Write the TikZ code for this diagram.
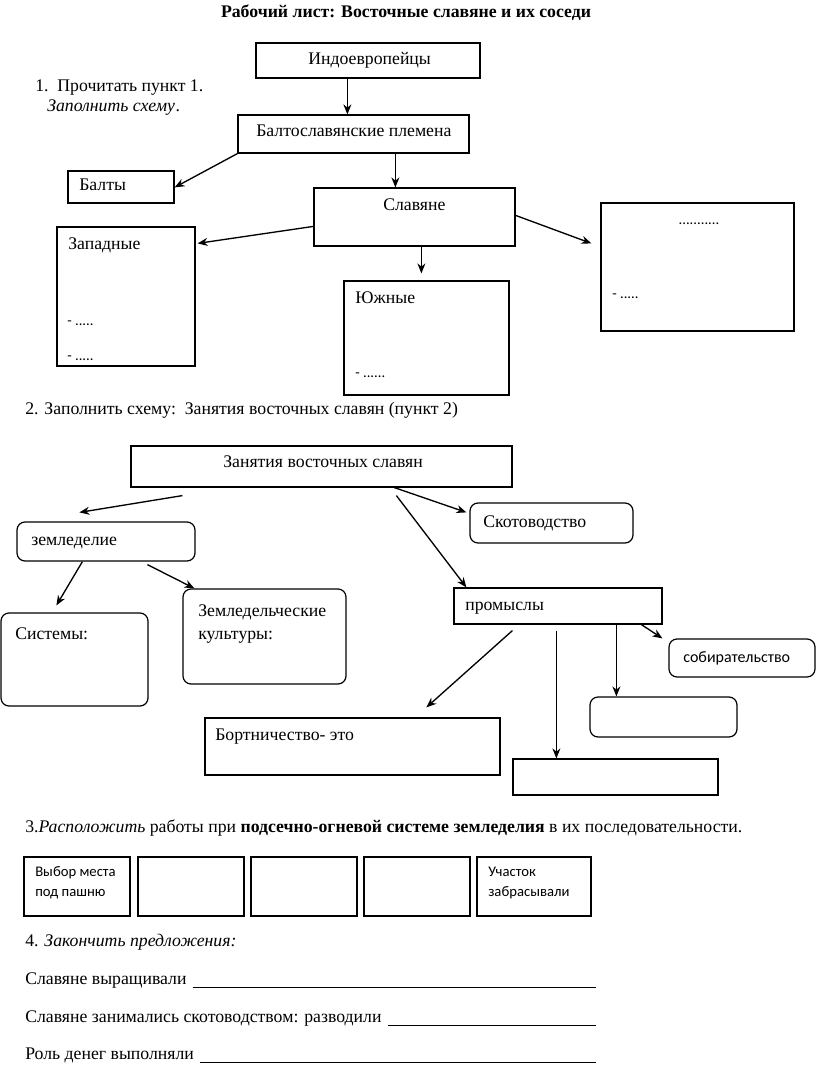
\documentclass[tikz,border=0pt]{standalone}
\usepackage{fontspec}
\setmainfont{Liberation Serif}
\newfontfamily\calib{Carlito}
\usepackage{tikz}
\usetikzlibrary{arrows.meta,shapes,positioning,calc}
\newcommand{\wsize}{\fontsize{13.3pt}{15pt}\selectfont}
\tikzstyle{box} = [rectangle, draw, line width=0.9pt, inner sep=0pt]
\tikzstyle{rbox} = [box, rounded corners=6pt]
\tikzstyle{txt} = [anchor=base west, inner sep=0pt, font=\wsize]
\tikzstyle{ctxt} = [anchor=base west, inner sep=0pt, font=\calib\fontsize{11pt}{13pt}\selectfont]
\tikzstyle{arrow} = [line width=1pt,-{Stealth[length=7.5pt,width=6pt]}]
\tikzstyle{blank} = [line width=0.6pt]
\tikzset{sz/.style 2 args={minimum width=#1*0.75pt, minimum height=#2*0.75pt}}

\begin{document}
\begin{tikzpicture}[x=0.75pt, y=-0.75pt]
    \useasboundingbox (0,0) rectangle (816,1084);

    % Title
    \node[font=\wsize\bfseries, anchor=base, inner sep=0pt] (title) at (406,18) {Рабочий лист: Восточные славяне и их соседи};

    % Task 1
    \node[txt] (t1a) at (35,92) {1.\hspace{0.5em}Прочитать пункт 1.};
    \node[txt] (t1b) at (47,112) {\itshape Заполнить схему};
    \node[txt] at (t1b.base east) {.};

    \node[box, sz={224}{35}] (indo) at (368,60.5) {};
    \node[txt] at (308,65) {Индоевропейцы};

    \node[box, sz={231}{38}] (balto) at (353.5,134) {};
    \node[txt] at (256,137) {Балтославянские племена};

    \node[box, sz={106}{32}] (balty) at (121,187) {};
    \node[txt] at (79,191) {Балты};

    \node[box, sz={201}{58}] (slav) at (414.5,217) {};
    \node[txt] at (383,211) {Славяне};

    \node[box, sz={138}{139}] (zap) at (126,296.5) {};
    \node[txt] at (68,249) {Западные};
    \node[ctxt] at (67,325) {- .....};
    \node[ctxt] at (67,360) {- .....};

    \node[box, sz={165}{114}] (yuzh) at (426.5,338) {};
    \node[txt] at (355,303) {Южные};
    \node[ctxt] at (355,377) {- ......};

    \node[box, sz={193}{128}] (east) at (697.5,267) {};
    \node[ctxt, anchor=base] at (699,225) {...........};
    \node[ctxt] at (612,298) {- .....};

    \draw[arrow] ($(indo.south west)+(92,0)$) -- ($(balto.north west)+(110,0)$);
    \draw[arrow] (balto.south west) -- ($(balty.north east)+(0,17)$);
    \draw[arrow] ($(balto.south west)+(158,0)$) -- ($(slav.north west)+(82,0)$);
    \draw[arrow] ($(slav.north west)+(0,39)$) -- ($(zap.north east)+(2,17)$);
    \draw[arrow] ($(slav.south west)+(108,0)$) -- ($(yuzh.north west)+(78,-7)$);
    \draw[arrow] ($(slav.north east)+(0,28)$) -- ($(east.north west)+(-9,41)$);

    % Task 2
    \node[txt] (t2) at (25,414) {2. Заполнить схему:\ \ Занятия восточных славян (пункт 2)};

    \node[box, sz={381}{41}] (zan) at (321.5,466.5) {};
    \node[txt] at (223,467) {Занятия восточных славян};

    \node[rbox, sz={178}{39}] (zeml) at (106,541.5) {};
    \node[txt] at (31,545) {земледелие};

    \node[rbox, sz={147}{93}] (sist) at (74.5,659.5) {};
    \node[txt] at (15,639) {Системы:};

    \node[rbox, sz={163}{95}] (kult) at (264.5,636.5) {};
    \node[txt] at (198,616) {Земледельческие};
    \node[txt] at (198,639) {культуры:};

    \node[rbox, sz={163}{40}] (skot) at (551.5,523) {};
    \node[txt] at (483,527) {Скотоводство};

    \node[box, sz={208}{36}] (prom) at (558,606) {};
    \node[txt] at (465,610) {промыслы};

    \node[rbox, sz={146}{38}] (sobir) at (742,658) {};
    \node[ctxt, font=\calib\fontsize{12pt}{14pt}\selectfont] at (683,662) {собирательство};

    \node[rbox, sz={147}{40}] (blankr) at (663.5,717) {};

    \node[box, sz={295}{57}] (bort) at (352.5,746.5) {};
    \node[txt] at (215,740) {Бортничество- это};

    \node[box, sz={205}{36}] (blanks) at (615.5,777) {};

    \draw[arrow] ($(zan.south west)+(52,8)$) -- ($(zeml.north west)+(63,-9)$);
    \draw[arrow] ($(zeml.south west)+(66,0)$) -- ($(sist.north west)+(56,-7)$);
    \draw[arrow] ($(zeml.south west)+(131,3)$) -- ($(kult.north west)+(12,0)$);
    \draw[arrow] ($(zan.south west)+(264,0)$) -- ($(skot.north west)+(-3,10)$);
    \draw[arrow] ($(zan.south west)+(266,8)$) -- ($(prom.north west)+(13,0)$);
    \draw[arrow] ($(prom.south west)+(59,6)$) -- ($(bort.north west)+(222,-10)$);
    \draw[arrow] ($(prom.south west)+(103,6)$) -- ($(blanks.north west)+(44,0)$);
    \draw[arrow] ($(prom.south west)+(163,0)$) -- ($(blankr.north west)+(27,0)$);
    \draw[arrow] ($(prom.south west)+(188,0)$) -- ($(sobir.north west)+(-6,0)$);

    % Task 3
    \node[txt] (t3) at (25,832) {3.\textit{Расположить} работы при \textbf{подсечно-огневой системе земледелия} в их последовательности.};
    \foreach \n/\cx/\w in {1/77/106, 2/191/106, 3/304/106, 4/417/106, 5/534/114}
        \node[box, sz={\w}{59}] (step\n) at (\cx,886.5) {};
    \node[ctxt] at (35,876) {Выбор места};
    \node[ctxt] at (35,896) {под пашню};
    \node[ctxt] at (488,876) {Участок};
    \node[ctxt] at (488,896) {забрасывали};

    % Task 4
    \node[txt] (t4) at (25,946) {4. \textit{Закончить предложения:}};
    \node[txt] (s1) at (25,984) {Славяне выращивали};
    \node[txt] (s2) at (25,1022) {Славяне занимались скотоводством: разводили};
    \node[txt] (s3) at (25,1059) {Роль денег выполняли};
    \coordinate (rmargin) at (596,0);
    \coordinate (e1) at ($(s1.base east)+(6,3)$);
    \coordinate (e2) at ($(s2.base east)+(6,3)$);
    \coordinate (e3) at ($(s3.base east)+(6,3)$);
    \draw[blank] (e1) -- (e1 -| rmargin);
    \draw[blank] (e2) -- (e2 -| rmargin);
    \draw[blank] (e3) -- (e3 -| rmargin);
\end{tikzpicture}
\end{document}
